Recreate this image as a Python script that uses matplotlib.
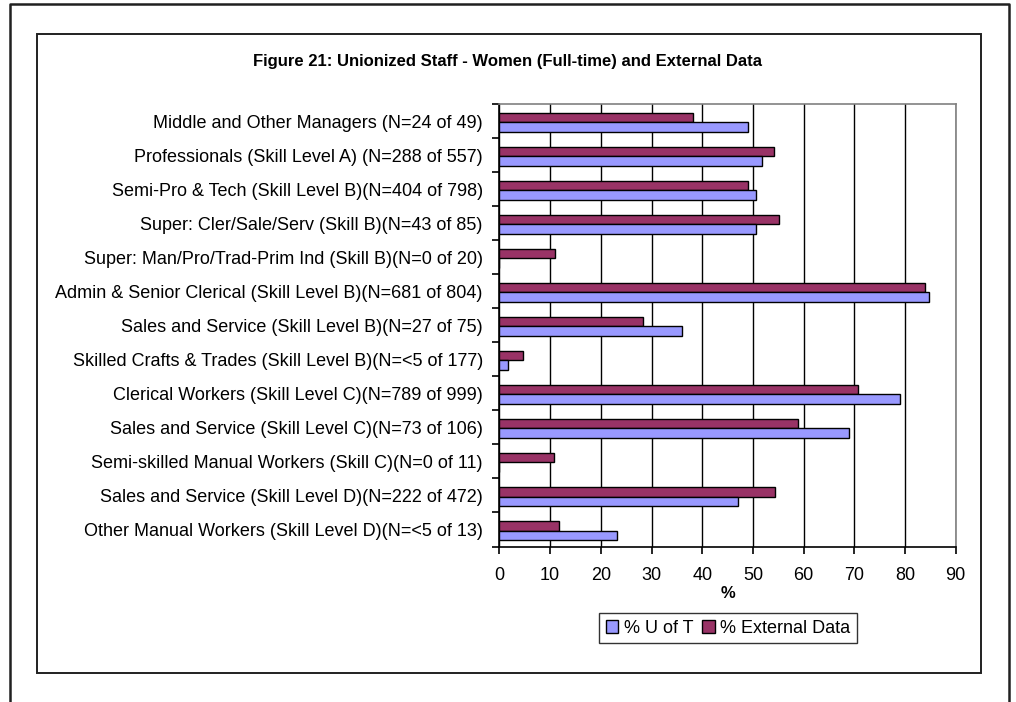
import matplotlib
matplotlib.use("Agg")
import matplotlib.pyplot as plt
import numpy as np
from matplotlib.lines import Line2D
from matplotlib.patches import Rectangle

plt.rcParams["font.family"] = ["Liberation Sans", "DejaVu Sans"]

categories = [
    "Middle and Other Managers (N=24 of 49)",
    "Professionals (Skill Level A) (N=288 of 557)",
    "Semi-Pro & Tech (Skill Level B)(N=404 of 798)",
    "Super: Cler/Sale/Serv (Skill B)(N=43 of 85)",
    "Super: Man/Pro/Trad-Prim Ind (Skill B)(N=0 of 20)",
    "Admin & Senior Clerical (Skill Level B)(N=681 of 804)",
    "Sales and Service (Skill Level B)(N=27 of 75)",
    "Skilled Crafts & Trades (Skill Level B)(N=<5 of 177)",
    "Clerical Workers (Skill Level C)(N=789 of 999)",
    "Sales and Service (Skill Level C)(N=73 of 106)",
    "Semi-skilled Manual Workers (Skill C)(N=0 of 11)",
    "Sales and Service (Skill Level D)(N=222 of 472)",
    "Other Manual Workers (Skill Level D)(N=<5 of 13)",
]
uoft = [49.0, 51.7, 50.6, 50.6, 0.0, 84.7, 36.0, 1.7, 79.0, 68.9, 0.0, 47.0, 23.1]
external = [38.1, 54.1, 49.0, 55.2, 11.0, 84.0, 28.3, 4.6, 70.8, 58.9, 10.8, 54.3, 11.8]
xticks = list(range(0, 100, 10))

fig = plt.figure(figsize=(10.16, 7.02), dpi=100)
ax = fig.add_axes([0.4916, 0.2215, 0.4490, 0.6299])

y = np.arange(len(categories))
h = 0.28
shift = 0.03  # pair of bars sits a touch below the category centre
ax.barh(y - h / 2 + shift, external, height=h, color="#993366", edgecolor="black",
        linewidth=1.0, label="% External Data", zorder=3)
ax.barh(y + h / 2 + shift, uoft, height=h, color="#9999FF", edgecolor="black",
        linewidth=1.0, label="% U of T", zorder=3)

ax.set_ylim(len(categories) - 0.5, -0.5)
ax.set_xlim(0, 90)
ax.set_xticks(xticks)
ax.set_yticks(y)
ax.set_yticklabels(categories)
ax.set_yticks(np.arange(len(categories) + 1) - 0.5, minor=True)
ax.tick_params(axis="y", which="major", length=0, pad=12, labelsize=13)
ax.tick_params(axis="y", which="minor", length=5, width=1.2, color="black", direction="out")
ax.tick_params(axis="x", length=5, width=1.2, direction="out", labelsize=13, pad=10)
ax.xaxis.grid(True, color="black", linewidth=1.0, zorder=0)
ax.set_axisbelow(True)

for side in ("top", "right"):
    ax.spines[side].set_color("#808080")
    ax.spines[side].set_linewidth(1.2)
for side in ("left", "bottom"):
    ax.spines[side].set_color("black")
    ax.spines[side].set_linewidth(1.2)

ax.set_xlabel("%", fontsize=12, fontweight="bold", labelpad=1)

handles, labels = ax.get_legend_handles_labels()
leg = fig.legend(handles[::-1], labels[::-1], loc="center", bbox_to_anchor=(0.7165, 0.1054),
                 ncol=2, fontsize=13, frameon=True, fancybox=False, handlelength=0.7,
                 handleheight=0.7, handletextpad=0.3, columnspacing=0.5, borderpad=0.35,
                 borderaxespad=0)
leg.get_frame().set_edgecolor("black")
leg.get_frame().set_linewidth(1.0)

fig.text(0.4995, 0.913, "Figure 21: Unionized Staff - Women (Full-time) and External Data",
         ha="center", va="center", fontsize=12, fontweight="bold")

# chart area box and outer page frame
fig.patches.append(Rectangle((0.0361, 0.0413), 0.9295, 0.9098, transform=fig.transFigure,
                             fill=False, edgecolor="#202020", linewidth=1.4))
frame_x = [0.0094, 0.0094, 0.9932, 0.9932]
frame_y = [0.0, 0.9943, 0.9943, 0.0]
fig.lines.append(Line2D(frame_x, frame_y, transform=fig.transFigure, color="#202020", linewidth=1.8))

fig.savefig("out.png", dpi=100)
